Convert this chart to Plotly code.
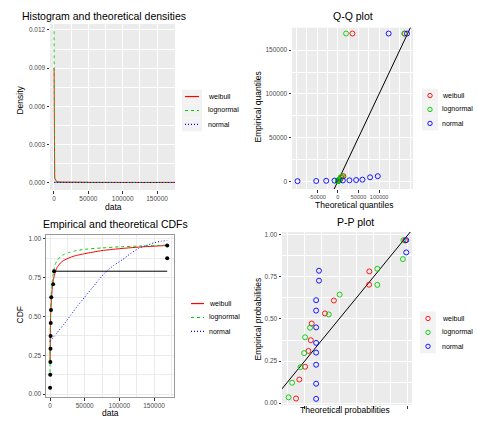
import plotly.graph_objects as go

W, H = 477, 422
FONT = "Liberation Sans, Arial, sans-serif"

# ---------------- data ----------------
dist_names = ["weibull", "lognormal", "normal"]
dist_colors = ["#FF0000", "#00CD00", "#0000FF"]
dist_dashes = ["solid", "3px,3px", "1px,2px"]

# sorted observations and empirical probabilities
obs_sorted = [100, 300, 500, 700, 900, 1100, 1400, 1800, 4500, 5800, 169000, 169000]
ecdf_prob = [0.042, 0.125, 0.208, 0.292, 0.375, 0.458, 0.542, 0.625, 0.708, 0.792, 0.875, 0.958]

# histogram (Sturges breaks) and theoretical densities
hist_left = [0, 50000, 100000, 150000]
hist_right = [50000, 100000, 150000, 200000]
hist_density = [1.7e-5, 0.0, 0.0, 3.3e-6]

dens_x = [100, 250, 500, 1000, 2000, 5000, 10000, 25000, 50000, 100000, 150000, 176000]
dens_weibull = [0.0090, 0.0020, 0.0009, 0.0004, 0.00018, 0.00006, 0.000025, 0.000008,
                0.000003, 0.000001, 0.0000006, 0.0000004]
dens_lognormal = [0.0119, 0.0030, 0.0011, 0.0004, 0.00014, 0.00004, 0.000014, 0.000004,
                  0.0000015, 0.0000005, 0.0000003, 0.0000002]
dens_normal = [4.9e-6, 4.9e-6, 4.9e-6, 5.0e-6, 5.0e-6, 5.1e-6, 5.2e-6, 5.2e-6,
               5.0e-6, 3.7e-6, 2.0e-6, 1.2e-6]

# theoretical CDFs
cdf_x = [0, 500, 1000, 2000, 3000, 5000, 7500, 10000, 15000, 20000, 27500, 35000,
         50000, 75000, 100000, 130000, 169000]
cdf_weibull = [0.20, 0.42, 0.52, 0.61, 0.67, 0.74, 0.785, 0.815, 0.845, 0.862, 0.878,
               0.89, 0.905, 0.925, 0.937, 0.948, 0.958]
cdf_lognormal = [0.14, 0.44, 0.55, 0.65, 0.71, 0.79, 0.835, 0.86, 0.885, 0.90, 0.912,
                 0.922, 0.933, 0.942, 0.949, 0.954, 0.960]
cdf_normal_x = [0, 10000, 20000, 30000, 40000, 50000, 60000, 70000, 80000, 92000, 104000,
                116000, 128000, 140000, 150000, 160000, 169000]
cdf_normal = [0.34, 0.395, 0.45, 0.51, 0.57, 0.625, 0.68, 0.735, 0.785, 0.83, 0.865,
              0.905, 0.94, 0.96, 0.975, 0.985, 0.99]

# Q-Q theoretical quantiles
qq_theo_weibull = [30, 150, 400, 800, 1400, 2300, 3600, 5500, 8500, 13500, 35300, 162000]
qq_theo_lognormal = [60, 200, 420, 750, 1200, 1900, 2900, 4400, 6800, 11000, 20000, 161000]
qq_theo_normal = [-97600, -52400, -28200, -8000, 12100, 28100, 44300, 59500, 78100, 96700,
                  123000, 167500]

# P-P plot
pp_theo_weibull = [0.187, 0.211, 0.253, 0.277, 0.294, 0.301, 0.397, 0.462, 0.718, 0.720, 0.980]
pp_emp_weibull = [0.027, 0.140, 0.216, 0.310, 0.374, 0.473, 0.533, 0.610, 0.704, 0.783, 0.967]
pp_theo_lognormal = [0.133, 0.159, 0.220, 0.246, 0.253, 0.289, 0.425, 0.504, 0.778, 0.778, 0.964, 0.968]
pp_emp_lognormal = [0.034, 0.121, 0.214, 0.297, 0.391, 0.448, 0.527, 0.645, 0.703, 0.799, 0.856, 0.969]
pp_theo_normal = [0.333, 0.333, 0.333, 0.333, 0.333, 0.333, 0.333, 0.333, 0.354, 0.354, 0.988, 0.988]
pp_emp_normal = [0.025, 0.115, 0.228, 0.300, 0.358, 0.450, 0.550, 0.612, 0.728, 0.787, 0.896, 0.969]

# tick labels
p1_xticks = [0, 50000, 100000, 150000]
p1_xlabels = ["0", "50000", "100000", "150000"]
p1_yticks = [0, 0.003, 0.006, 0.009, 0.012]
p1_ylabels = ["0.000", "0.003", "0.006", "0.009", "0.012"]
p2_xticks = [-50000, 0, 50000, 100000]
p2_xlabels = ["-50000", "0", "50000", "100000"]
p2_yticks = [0, 50000, 100000, 150000]
p2_ylabels = ["0", "50000", "100000", "150000"]
p3_xticks = [0, 50000, 100000, 150000]
p3_xlabels = ["0", "50000", "100000", "150000"]
p3_yticks = [0, 0.25, 0.5, 0.75, 1.0]
p3_ylabels = ["0.00", "0.25", "0.50", "0.75", "1.00"]
p4_xticks = [0.25, 0.5, 0.75, 1.0]
p4_yticks = [0, 0.25, 0.5, 0.75, 1.0]
p4_ylabels = ["0.00", "0.25", "0.50", "0.75", "1.00"]

# ---------------- helpers ----------------
def fx(px):
    return px / W


def fy(py):
    return 1 - py / H


fig = go.Figure()

# ---- panel 1: histogram & densities ----
fig.add_trace(go.Bar(
    x=[(a + b) / 2 for a, b in zip(hist_left, hist_right)],
    y=hist_density,
    width=[b - a for a, b in zip(hist_left, hist_right)],
    marker=dict(color="#BEBEBE", line=dict(color="#4D4D4D", width=0.5)),
    xaxis="x", yaxis="y", showlegend=False, hoverinfo="skip"))
dens_map = [dens_weibull, dens_lognormal, dens_normal]
for name, col, dash, ys in zip(dist_names, dist_colors, dist_dashes, dens_map):
    fig.add_trace(go.Scatter(x=dens_x, y=ys, mode="lines", name=name,
                             line=dict(color=col, dash=dash, width=0.9),
                             xaxis="x", yaxis="y", showlegend=False))

# ---- panel 2: Q-Q ----
qq_line = [-130000, 200000]
fig.add_trace(go.Scatter(x=qq_line, y=qq_line, mode="lines",
                         line=dict(color="black", width=1),
                         xaxis="x2", yaxis="y2", showlegend=False))
qq_map = [qq_theo_weibull, qq_theo_lognormal, qq_theo_normal]
for name, col, xs in zip(dist_names, dist_colors, qq_map):
    fig.add_trace(go.Scatter(x=xs, y=obs_sorted, mode="markers", name=name,
                             marker=dict(symbol="circle-open", color=col, size=5,
                                         line=dict(width=0.9)),
                             xaxis="x2", yaxis="y2", showlegend=False))

# ---- panel 3: CDFs ----
cdf_map = [(cdf_x, cdf_weibull), (cdf_x, cdf_lognormal), (cdf_normal_x, cdf_normal)]
for name, col, dash, (xs, ys) in zip(dist_names, dist_colors, dist_dashes, cdf_map):
    fig.add_trace(go.Scatter(x=xs, y=ys, mode="lines", name=name,
                             line=dict(color=col, dash=dash, width=1, shape="spline",
                                       smoothing=0.5),
                             xaxis="x3", yaxis="y3", showlegend=False))
# empirical step segments
step_x, step_y = [], []
for i in range(len(obs_sorted) - 1):
    step_x += [obs_sorted[i], obs_sorted[i + 1], None]
    step_y += [ecdf_prob[i], ecdf_prob[i], None]
fig.add_trace(go.Scatter(x=step_x, y=step_y, mode="lines",
                         line=dict(color="black", width=1),
                         xaxis="x3", yaxis="y3", showlegend=False))
fig.add_trace(go.Scatter(x=obs_sorted, y=ecdf_prob, mode="markers",
                         marker=dict(color="black", size=4),
                         xaxis="x3", yaxis="y3", showlegend=False))

# ---- panel 4: P-P ----
pp_line = [0, 1.1]
fig.add_trace(go.Scatter(x=pp_line, y=pp_line, mode="lines",
                         line=dict(color="black", width=1),
                         xaxis="x4", yaxis="y4", showlegend=False))
pp_map = [(pp_theo_weibull, pp_emp_weibull), (pp_theo_lognormal, pp_emp_lognormal),
          (pp_theo_normal, pp_emp_normal)]
for name, col, (xs, ys) in zip(dist_names, dist_colors, pp_map):
    fig.add_trace(go.Scatter(x=xs, y=ys, mode="markers", name=name,
                             marker=dict(symbol="circle-open", color=col, size=5,
                                         line=dict(width=0.9)),
                             xaxis="x4", yaxis="y4", showlegend=False))

# ---------------- axes ----------------
def axis(domain, rng, tickvals, ticktext, minor_dtick, grey=True, anchor=None,
         showlabels=True, tick0=0, fontsize=6.5):
    d = dict(domain=domain, range=rng, tickvals=tickvals, ticks="outside", ticklen=2.5,
             tickwidth=0.6, tickcolor="#333333",
             tickfont=dict(family=FONT, size=fontsize, color="#4D4D4D"), zeroline=False,
             tickangle=0,
             showgrid=True, gridcolor="white" if grey else "#EBEBEB", gridwidth=1,
             minor=dict(dtick=minor_dtick, tick0=tick0, showgrid=True, ticks="",
                        gridcolor="white" if grey else "#EBEBEB", gridwidth=0.5),
             anchor=anchor, showticklabels=showlabels, fixedrange=True)
    if ticktext is not None:
        d["ticktext"] = ticktext
    if not grey:
        d.update(showline=True, mirror=True, linecolor="#9A9A9A", linewidth=1)
    return d


dom = {
    1: ([fx(50), fx(175)], [fy(190), fy(23)]),
    2: ([fx(292), fx(413)], [fy(189), fy(27)]),
    3: ([fx(46), fx(174)], [fy(398), fy(235)]),
    4: ([fx(282), fx(412)], [fy(406), fy(232)]),
}

fig.update_layout(
    xaxis=axis(dom[1][0], [-5800, 176200], p1_xticks, p1_xlabels, 25000, anchor="y"),
    yaxis=axis(dom[1][1], [-0.0006, 0.01248], p1_yticks, p1_ylabels, 0.0015, anchor="x"),
    xaxis2=axis(dom[2][0], [-111000, 182000], p2_xticks, p2_xlabels, 25000, anchor="y2",
                fontsize=5.6),
    yaxis2=axis(dom[2][1], [-9000, 175500], p2_yticks, p2_ylabels, 25000, anchor="x2"),
    xaxis3=axis(dom[3][0], [-5800, 178800], p3_xticks, p3_xlabels, 25000, grey=False,
                anchor="y3"),
    yaxis3=axis(dom[3][1], [-0.019, 1.026], p3_yticks, p3_ylabels, 0.125, grey=False,
                anchor="x3"),
    xaxis4=axis(dom[4][0], [0.085, 1.03], p4_xticks, None, 0.125, anchor="y4",
                showlabels=False),
    yaxis4=axis(dom[4][1], [-0.012, 1.018], p4_yticks, p4_ylabels, 0.125, anchor="x4"),
)

shapes = []
# grey panel backgrounds
for k in (1, 2, 4):
    xr = "x domain" if k == 1 else f"x{k} domain"
    yr = "y domain" if k == 1 else f"y{k} domain"
    shapes.append(dict(type="rect", xref=xr, yref=yr, x0=0, x1=1, y0=0, y1=1,
                       fillcolor="#EBEBEB", line=dict(width=0), layer="below"))

annotations = []


def text(x, y, s, size, angle=0, color="black", xanchor="center"):
    annotations.append(dict(x=fx(x), y=fy(y), xref="paper", yref="paper", text=s,
                            showarrow=False, textangle=angle, xanchor=xanchor,
                            yanchor="middle", font=dict(family=FONT, size=size,
                                                        color=color)))


# titles
text(104, 15, "Histogram and theoretical densities", 10.5)
text(353, 15, "Q-Q plot", 10.5)
text(115, 224, "Empirical and theoretical CDFs", 10.5)
text(355, 222, "P-P plot", 10.5)
# axis titles
text(20, 100, "Density", 8.5, angle=-90)
text(113, 207, "data", 8.5)
text(258, 107, "Empirical quantiles", 8.5, angle=-90)
text(354, 205, "Theoretical quantiles", 8.5)
text(20, 316, "CDF", 8.5, angle=-90)
text(110, 414, "data", 8.5)
text(258, 320, "Empirical probabilities", 8.5, angle=-90)
text(345, 411, "Theoretical probabilities", 8.5)

# legends
legend_specs = [
    dict(kind="line", kx=(185, 199), tx=206, rows=[96, 110, 124], bg="#F2F2F2", bx=(182, 202)),
    dict(kind="marker", kx=430, tx=440, rows=[95, 109, 123], bg="#F2F2F2", bx=(422, 438)),
    dict(kind="line", kx=(191, 204), tx=207, rows=[304, 318, 332], bg="white", bx=(188, 206)),
    dict(kind="marker", kx=428, tx=440, rows=[319, 333, 347], bg="#F2F2F2", bx=(420, 436)),
]
for spec in legend_specs:
    for name, col, dash, ry in zip(dist_names, dist_colors, dist_dashes, spec["rows"]):
        shapes.append(dict(type="rect", xref="paper", yref="paper",
                           x0=fx(spec["bx"][0]), x1=fx(spec["bx"][1]),
                           y0=fy(ry + 7), y1=fy(ry - 7),
                           fillcolor=spec["bg"], line=dict(width=0), layer="below"))
        if spec["kind"] == "line":
            shapes.append(dict(type="line", xref="paper", yref="paper",
                               x0=fx(spec["kx"][0]), x1=fx(spec["kx"][1]),
                               y0=fy(ry), y1=fy(ry), layer="above",
                               line=dict(color=col, width=1.2, dash=dash)))
        else:
            r = 2.2
            shapes.append(dict(type="circle", xref="paper", yref="paper",
                               x0=fx(spec["kx"] - r), x1=fx(spec["kx"] + r),
                               y0=fy(ry + r), y1=fy(ry - r),
                               line=dict(color=col, width=0.9)))
        text(spec["tx"], ry, name, 7, xanchor="left")

fig.update_layout(
    width=W, height=H, margin=dict(l=0, r=0, t=0, b=0),
    paper_bgcolor="white", plot_bgcolor="white",
    showlegend=False, shapes=shapes, annotations=annotations,
    font=dict(family=FONT),
)

fig.write_html("out.html")
